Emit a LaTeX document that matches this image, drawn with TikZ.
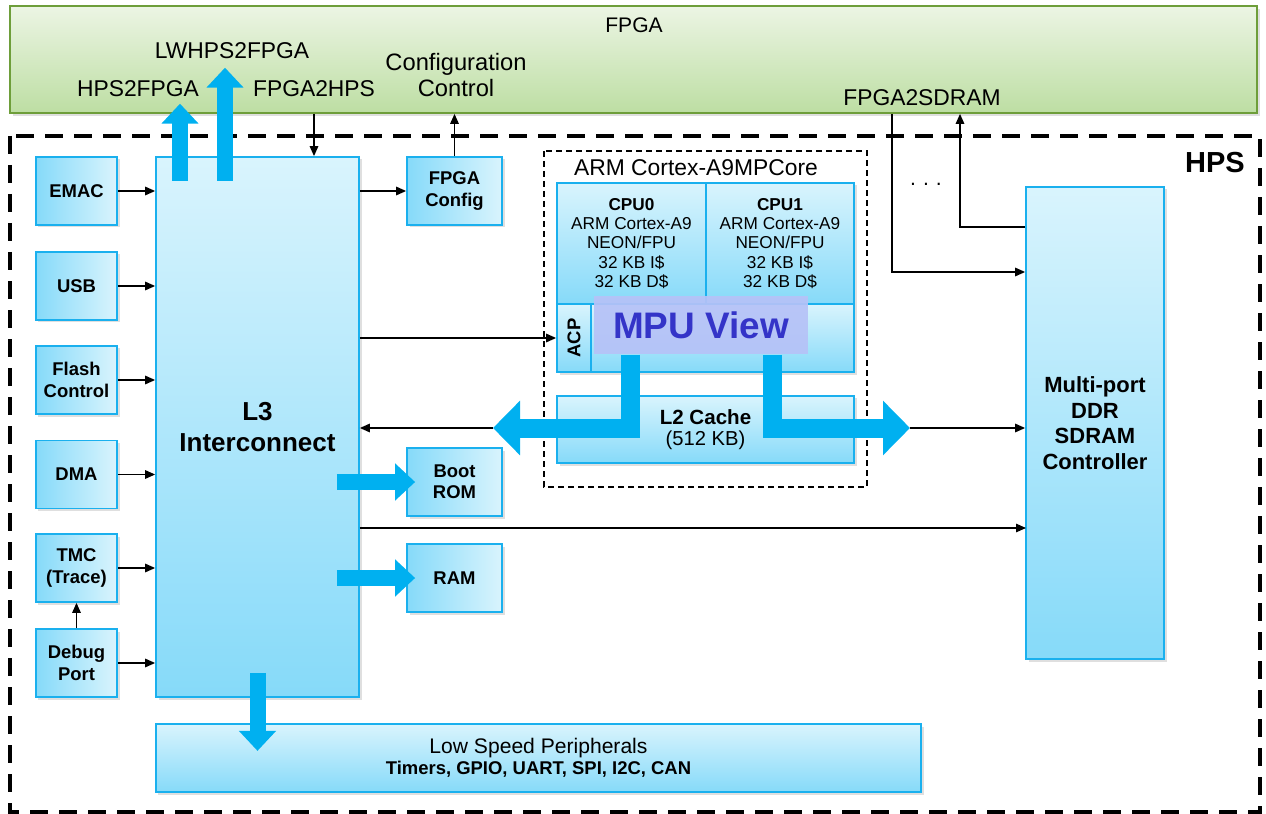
\documentclass[tikz,border=0pt]{standalone}
\usepackage{fontspec}
\setmainfont{Liberation Sans}
\usetikzlibrary{arrows.meta,calc,shadows}
\definecolor{hpsblue}{HTML}{1AB0EE}
\definecolor{arrowblue}{HTML}{00B0F0}
\definecolor{lightblue}{HTML}{D9F4FD}
\definecolor{darkblue}{HTML}{86DAF9}
\definecolor{fpgaline}{HTML}{6E9E3A}
\definecolor{fpgatop}{HTML}{ECF5E4}
\definecolor{fpgabot}{HTML}{BDDEA3}
\definecolor{mpufill}{HTML}{B6C2F7}
\definecolor{mputext}{HTML}{3434C8}

\begin{document}
\begin{tikzpicture}[x=0.2mm,y=-0.2mm,line width=0.3mm,
    >={Triangle[length=2mm,width=1.7mm]},
    shade/.style={drop shadow={opacity=0.25,shadow xshift=0.5mm,shadow yshift=-0.5mm}},
    hbox/.style={draw=hpsblue,line width=0.35mm,left color=darkblue,right color=lightblue,
      inner sep=0pt,align=center,font=\fontsize{10.5}{12.2}\selectfont\bfseries,
      minimum width=16.2mm,minimum height=13.6mm,shade},
    vbox/.style={draw=hpsblue,line width=0.35mm,top color=lightblue,bottom color=darkblue,
      inner sep=0pt,align=center,shade},
    cpubox/.style={vbox,minimum width=29.7mm,minimum height=24.2mm,
      font=\fontsize{9.8}{10.9}\selectfont},
    toplabel/.style={align=center,font=\fontsize{13}{15}\selectfont},
    fatarrow/.style={draw=arrowblue,line width=3.2mm,line join=miter,
      -{Triangle[length=4mm,width=7.2mm]}},
    mpuarrow/.style={draw=arrowblue,line width=3.8mm,line join=miter,
      -{Triangle[length=5.4mm,width=10.6mm]}}]

  \useasboundingbox (0,0) rectangle (1266,814);

  % FPGA
  \node[draw=fpgaline,line width=0.35mm,top color=fpgatop,bottom color=fpgabot,
    minimum width=249.4mm,minimum height=21.4mm,
    drop shadow={opacity=0.25,shadow xshift=0.6mm,shadow yshift=-0.6mm}]
    (fpga) at (633.5,59.5) {};
  \node[font=\fontsize{12}{14}\selectfont] (fpgatxt) at (634,25) {FPGA};
  \node[toplabel] (lwh2f) at (232,51) {LWHPS2FPGA};
  \node[toplabel] (h2f) at (138,89) {HPS2FPGA};
  \node[toplabel] (f2h) at (314,89) {FPGA2HPS};
  \node[toplabel,font=\fontsize{13.5}{14.8}\selectfont] (cfgctl) at (456,75) {Configuration\\Control};
  \node[toplabel] (f2sdram) at (922,98) {FPGA2SDRAM};

  % HPS
  \draw[line width=0.8mm,dash pattern=on 3.6mm off 2.2mm] (10,136) rectangle (1260,812);
  \node[font=\fontsize{16.5}{18}\selectfont\bfseries] (hps) at (1215,163) {HPS};

  % masters on the left
  \node[hbox] (emac) at (76.5,191) {EMAC};
  \node[hbox] (usb) at (76.5,286) {USB};
  \node[hbox] (flash) at (76.5,380) {Flash\\Control};
  \node[hbox] (dma) at (76.5,474.5) {DMA};
  \node[hbox] (tmc) at (76.5,568) {TMC\\(Trace)};
  \node[hbox] (debug) at (76.5,663) {Debug\\Port};

  % L3 interconnect
  \node[vbox,minimum width=40.6mm,minimum height=108mm,
    font=\fontsize{14.8}{17.6}\selectfont\bfseries] (l3) at (257.5,427) {L3\\Interconnect};

  \draw[->] (emac) -- (emac -| l3.west);
  \draw[->] (usb) -- (usb -| l3.west);
  \draw[->] (flash) -- (flash -| l3.west);
  \draw[->] (dma) -- (dma -| l3.west);
  \draw[->] (tmc) -- (tmc -| l3.west);
  \draw[->] (debug) -- (debug -| l3.west);
  \draw[->] (debug) -- (tmc);

  % slaves next to L3
  \node[hbox,minimum width=19mm] (fpgacfg) at (454.5,191) {FPGA\\Config};
  \node[hbox,minimum width=19mm] (bootrom) at (454.5,482) {Boot\\ROM};
  \node[hbox,minimum width=19mm] (ram) at (454.5,578) {RAM};
  \node[vbox,minimum width=153mm,minimum height=13.6mm,align=center]
    (lsp) at (538.5,758) {{\fontsize{12}{14}\selectfont Low Speed Peripherals}\\
    {\fontsize{10.5}{13}\selectfont\bfseries Timers, GPIO, UART, SPI, I2C, CAN}};

  % ARM Cortex-A9MPCore
  \draw[dash pattern=on 1.2mm off 0.8mm,line width=0.25mm] (544,151) rectangle (867,487);
  \node[font=\fontsize{13}{15}\selectfont] (armtxt) at (696,168) {ARM Cortex-A9MPCore};
  \node[cpubox] (cpu0) at (631.5,243.5) {\textbf{CPU0}\\ARM Cortex-A9\\NEON/FPU\\32 KB I\$\\32 KB D\$};
  \node[cpubox] (cpu1) at (780,243.5) {\textbf{CPU1}\\ARM Cortex-A9\\NEON/FPU\\32 KB I\$\\32 KB D\$};
  \node[vbox,minimum width=6.8mm,minimum height=13.6mm] (acp) at (574,338)
    {\rotatebox{90}{\fontsize{10.5}{12}\selectfont\bfseries ACP}};
  \node[vbox,minimum width=52.6mm,minimum height=13.6mm] (scu) at (722.5,338) {};
  \node[vbox,minimum width=59.4mm,minimum height=13.4mm] (l2) at (705.5,429.5)
    {{\fontsize{11.7}{13}\selectfont\bfseries L2 Cache}\\{\fontsize{11.5}{13}\selectfont (512 KB)}};

  % DDR controller
  \node[vbox,minimum width=27.6mm,minimum height=94.4mm,
    font=\fontsize{12.5}{14.6}\selectfont\bfseries] (ddr) at (1095,423)
    {Multi-port\\DDR\\SDRAM\\Controller};
  \node[font=\fontsize{12}{14}\selectfont] (dots) at (926,184) {.\,\,.\,\,.};

  % MPU View
  \node[fill=mpufill,fill opacity=0.92,text opacity=1,minimum width=42.8mm,minimum height=11.6mm,
    inner sep=0pt,font=\fontsize{21}{24}\selectfont\bfseries,text=mputext] (mpu) at (701,325) {MPU View};

  % FPGA bridges
  \coordinate (h2fbot) at (180,181);
  \coordinate (lwbot) at (225,181);
  \draw[fatarrow] (h2fbot) -- (h2fbot |- h2f.south);
  \draw[fatarrow] (lwbot) -- ($(lwbot |- lwh2f.south)+(0,2)$);
  \draw[->] (f2h.south |- fpga.south) -- (f2h.south |- l3.north);
  \draw[->] (l3.east |- fpgacfg.west) -- (fpgacfg.west);
  \draw[->] (fpgacfg.north) -- (fpgacfg.north |- fpga.south);

  % FPGA2SDRAM
  \coordinate (sdin) at (892,272);
  \coordinate (sdout) at (960,227);
  \draw[->] (sdin |- fpga.south) -- (sdin) -- (sdin -| ddr.west);
  \draw[->] (sdout -| ddr.west) -- (sdout) -- (sdout |- fpga.south);

  % L3 to memories
  \draw[->] (l3.east |- acp.west) -- (acp.west);
  \draw[fatarrow] ($(l3.east |- bootrom.west)+(-23,0)$) -- ($(bootrom.west)+(9,0)$);
  \draw[fatarrow] ($(l3.east |- ram.west)+(-23,0)$) -- ($(ram.west)+(9,0)$);
  \draw[fatarrow] ($(l3.south)+(0,-25)$) -- ($(l3.south)+(0,53)$);
  \coordinate (ddrin) at (1026,528);
  \draw[->] (l3.east |- ddrin) -- (ddrin);

  % MPU paths
  \coordinate (mpul) at (493,428);
  \coordinate (mpur) at (910,428);
  \draw[mpuarrow] (mpu.south -| 630.5,0) |- (mpul);
  \draw[mpuarrow] (mpu.south -| 772.5,0) |- (mpur);
  \draw[->] (mpul) -- (mpul -| l3.east);
  \draw[->] (mpur) -- (mpur -| ddr.west);

\end{tikzpicture}
\end{document}
